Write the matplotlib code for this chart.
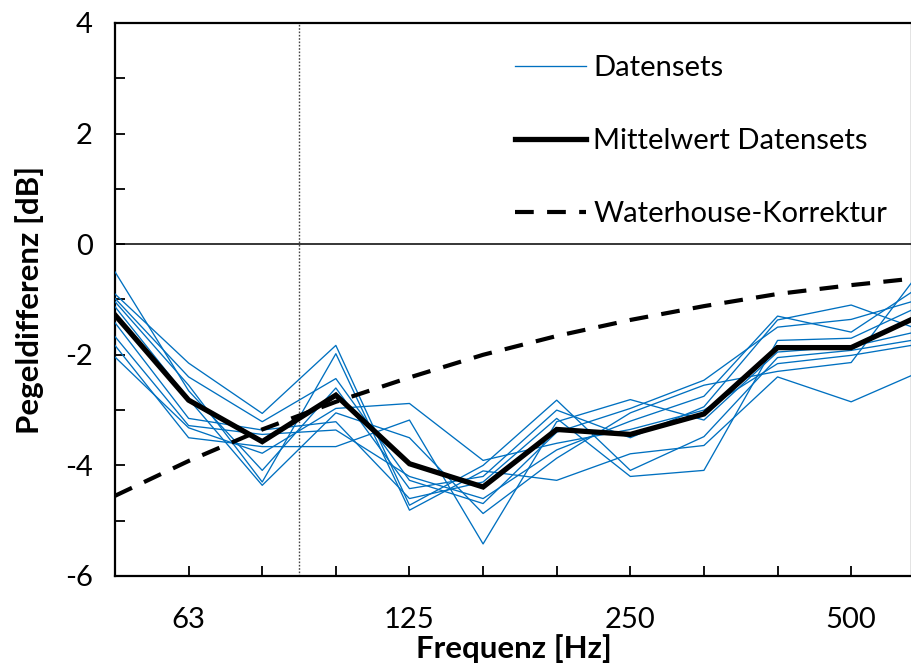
import numpy as np
import matplotlib
matplotlib.use("Agg")
import matplotlib.pyplot as plt

plt.rcParams['font.family'] = ['Lato', 'DejaVu Sans']
plt.rcParams['axes.unicode_minus'] = False

# third-octave bands (Hz)
bands = [50, 63, 80, 100, 125, 160, 200, 250, 315, 400, 500, 630]
tick_labels = {63: "63", 125: "125", 250: "250", 500: "500"}

# individual datasets (level difference, dB)
s1 = [-0.50, -2.65, -4.09, -2.60, -4.42, -4.20, -3.00, -3.50, -2.94, -1.37, -1.10, -1.58]
s2 = [-0.90, -2.15, -3.06, -1.83, -4.72, -4.00, -2.82, -4.09, -3.48, -2.05, -1.92, -1.70]
s3 = [-0.98, -2.40, -3.21, -2.43, -4.27, -4.69, -3.40, -2.97, -2.46, -1.50, -1.36, -0.97]
s4 = [-1.04, -2.55, -4.30, -1.98, -4.81, -4.10, -4.27, -3.79, -3.64, -2.40, -2.85, -2.27]
s5 = [-1.13, -2.80, -4.36, -3.05, -3.50, -4.87, -3.87, -3.05, -2.55, -2.30, -2.14, -0.38]
s6 = [-1.42, -3.15, -3.36, -3.21, -4.60, -4.30, -3.15, -4.20, -4.09, -1.74, -1.70, -1.08]
s7 = [-1.67, -3.28, -3.44, -3.36, -4.20, -4.60, -3.72, -3.20, -2.75, -1.30, -1.59, -0.71]
s8 = [-1.83, -3.50, -3.66, -3.66, -3.18, -5.42, -3.21, -2.81, -3.18, -1.95, -1.85, -1.55]
s9 = [-2.04, -3.32, -3.78, -2.97, -2.88, -3.91, -3.60, -3.35, -3.00, -2.16, -2.01, -1.79]
datasets = [s1, s2, s3, s4, s5, s6, s7, s8, s9]

mean_values = [-1.28, -2.82, -3.57, -2.73, -3.97, -4.39, -3.35, -3.44, -3.07, -1.87, -1.87, -1.25]
waterhouse = [-4.55, -3.92, -3.35, -2.85, -2.41, -2.00, -1.66, -1.37, -1.12, -0.90, -0.74, -0.60]

f_marker = 89  # Hz, dotted vertical line
f_axis_max = 610  # Hz, right edge of the axis

def pos(f):
    # third-octave band position (50 Hz -> 0)
    return 3 * np.log2(np.asarray(f, dtype=float) / 50.0)

x = np.arange(len(bands))

fig = plt.figure(figsize=(9.12, 6.66), dpi=100)
ax = fig.add_axes([115/912, 90/666, 797/912, 553/666])

blue = '#0070C0'
for i, s in enumerate(datasets):
    ax.plot(x, s, color=blue, lw=0.95, label='Datensets' if i == 0 else None, zorder=3)
ax.plot(x, mean_values, color='black', lw=3.8, label='Mittelwert Datensets', zorder=4,
        solid_joinstyle='miter')
ax.plot(x, waterhouse, color='black', lw=3.0, ls=(0, (4.5, 3.2)), label='Waterhouse-Korrektur', zorder=4)

ax.axhline(0, color='black', lw=1.1, zorder=2)
ax.axvline(pos(f_marker), color='#444444', lw=1.0, ls=(0, (1.2, 1.2)), zorder=2)

ax.set_xticks(x)
ax.set_xticklabels([tick_labels.get(b, "") for b in bands])
ax.set_yticks(np.arange(-6, 5, 2))
ax.set_yticks(np.arange(-6, 5, 1), minor=True)
ax.set_xlim(0, float(pos(f_axis_max)))
ax.set_ylim(-6, 4)

ax.tick_params(axis='both', which='both', direction='in', length=7, width=1.3,
               labelsize=21, colors='black')
ax.tick_params(axis='x', pad=22)
ax.tick_params(axis='y', pad=16)

for sp in ax.spines.values():
    sp.set_linewidth(1.6)
    sp.set_color('black')

ax.set_xlabel('Frequenz [Hz]', fontsize=22.5, fontweight='bold', labelpad=1)
ax.set_ylabel('Pegeldifferenz [dB]', fontsize=22.5, fontweight='bold', labelpad=15)

leg = ax.legend(loc='upper right', bbox_to_anchor=(1.0085, 1.0), frameon=False, fontsize=21,
                handlelength=2.43, handletextpad=0.25, labelspacing=1.62, borderaxespad=0.69)

fig.savefig('out.png', dpi=100)
